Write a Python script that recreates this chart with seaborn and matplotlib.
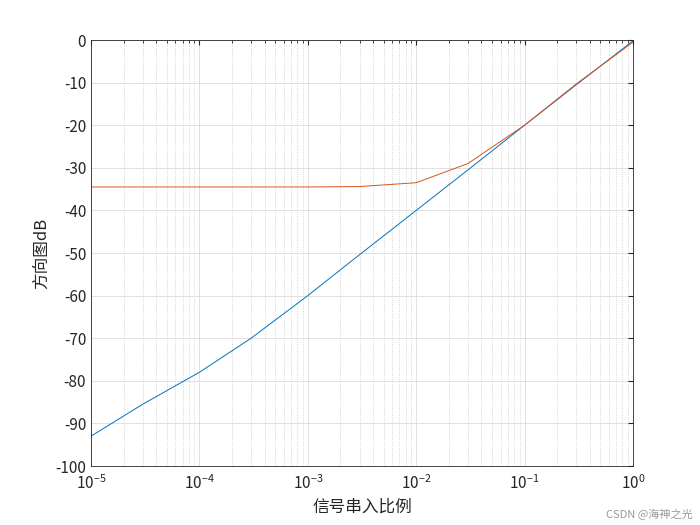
import matplotlib
matplotlib.use("Agg")
import matplotlib.pyplot as plt
import seaborn as sns
import pandas as pd

x_vals = [1e-5, 3e-5, 1e-4, 3e-4, 1e-3, 3e-3, 1e-2, 3e-2, 1e-1, 3e-1, 1.0]
blue_vals = [-93, -85.5, -78, -70, -60, -50.4, -40, -30.5, -20, -10.5, -0.2]
red_vals = [-34.5, -34.5, -34.5, -34.5, -34.5, -34.4, -33.5, -29, -20, -10.3, -0.5]

sns.set_style("white")
plt.rcParams['font.family'] = ['Noto Sans CJK SC', 'DejaVu Sans']
plt.rcParams['axes.unicode_minus'] = False

df = pd.DataFrame({"x": x_vals + x_vals,
                   "y": blue_vals + red_vals,
                   "s": ["a"] * len(x_vals) + ["b"] * len(x_vals)})

fig = plt.figure(figsize=(7, 5.25), dpi=100)
ax = fig.add_axes([91/700, 1 - 466/525, (633-91)/700, (466-40)/525])
sns.lineplot(data=df, x="x", y="y", hue="s", palette=["#0072BD", "#D95319"],
             linewidth=0.7, legend=False, ax=ax)
ax.set_xscale("log")
ax.set_xlim(1e-5, 1)
ax.set_ylim(-100, 0)
ax.set_yticks(range(-100, 1, 10))
ax.grid(True, which="major", color="#dcdcdc", linewidth=0.6)
ax.grid(True, which="minor", axis="x", color="#c8c8c8", linestyle=":", linewidth=0.6)
ax.tick_params(which="both", direction="in", top=True, right=True, labelsize=11)
ax.tick_params(axis="x", pad=6)
for s in ax.spines.values():
    s.set_color("#262626"); s.set_linewidth(0.6)
ax.set_xlabel("信号串入比例", fontsize=12, color="#262626")
ax.set_ylabel("方向图dB", fontsize=12, color="#262626")
fig.text(0.99, 0.01, "CSDN @海神之光", ha="right", va="bottom", fontsize=8, color="#999999")
fig.savefig("out.png", dpi=100)
